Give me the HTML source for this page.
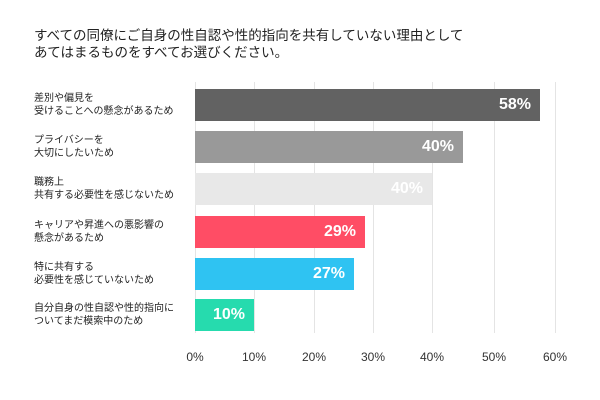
<!DOCTYPE html>
<html><head><meta charset="utf-8"><style>
body{margin:0;width:600px;height:400px;background:#fff;position:relative;overflow:hidden;font-family:"Liberation Sans","Noto Sans CJK JP",sans-serif;color:#222}
.t{position:absolute;left:34px;top:27px;font-size:13.5px;line-height:17px}
.g{position:absolute;top:82px;width:1px;height:251px;background:#e4e4e4}
.b{position:absolute;left:195px;height:32px}
.v{position:absolute;right:9px;top:0;line-height:32px;color:#fff;font-weight:bold;font-size:16px}
.l{position:absolute;left:34px;font-size:10px;line-height:13px}
.x{position:absolute;top:350px;font-size:12px;color:#333;width:40px;margin-left:-20px;text-align:center}
</style></head><body>
<div class="t">すべての同僚にご自身の性自認や性的指向を共有していない理由として<br>あてはまるものをすべてお選びください。</div>
<div class="g" style="left:195px"></div><div class="g" style="left:254px"></div><div class="g" style="left:314px"></div><div class="g" style="left:373px"></div><div class="g" style="left:432px"></div><div class="g" style="left:494px"></div><div class="g" style="left:555px"></div>
<div class="b" style="top:89px;width:345px;background:#626262"><span class="v">58%</span></div>
<div class="b" style="top:131px;width:268px;background:#999"><span class="v">40%</span></div>
<div class="b" style="top:173px;width:237px;background:#e8e8e8"><span class="v">40%</span></div>
<div class="b" style="top:216px;width:170px;background:#ff4d65"><span class="v">29%</span></div>
<div class="b" style="top:258px;width:159px;background:#2fc3f2"><span class="v">27%</span></div>
<div class="b" style="top:299px;width:59px;background:#26dbae"><span class="v">10%</span></div>
<div class="l" style="top:92px">差別や偏見を<br>受けることへの懸念があるため</div>
<div class="l" style="top:134px">プライバシーを<br>大切にしたいため</div>
<div class="l" style="top:176px">職務上<br>共有する必要性を感じないため</div>
<div class="l" style="top:219px">キャリアや昇進への悪影響の<br>懸念があるため</div>
<div class="l" style="top:261px">特に共有する<br>必要性を感じていないため</div>
<div class="l" style="top:302px">自分自身の性自認や性的指向に<br>ついてまだ模索中のため</div>
<div class="x" style="left:195px">0%</div><div class="x" style="left:254px">10%</div><div class="x" style="left:314px">20%</div><div class="x" style="left:373px">30%</div><div class="x" style="left:432px">40%</div><div class="x" style="left:494px">50%</div><div class="x" style="left:555px">60%</div>
</body></html>
